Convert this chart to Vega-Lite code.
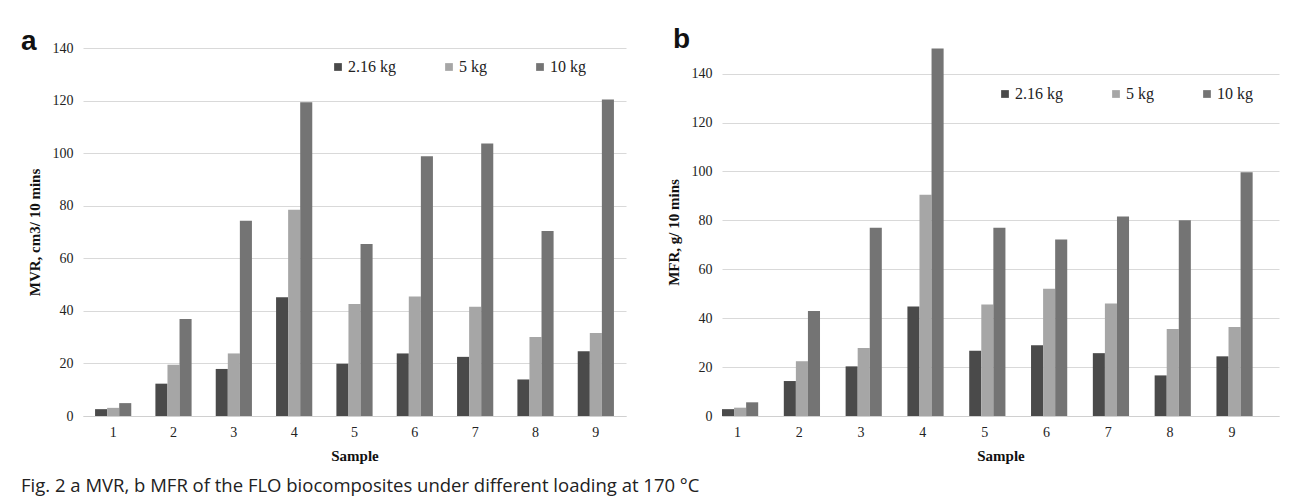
{
  "$schema": "https://vega.github.io/schema/vega-lite/v6.json",
  "background": "white",
  "padding": {"left": 21, "top": 26, "right": 5, "bottom": 5},
  "spacing": 40,
  "datasets": {
    "mvr": [
      {"sample": "1", "load": "2.16 kg", "value": 2.6},
      {"sample": "1", "load": "5 kg", "value": 3.1},
      {"sample": "1", "load": "10 kg", "value": 4.9},
      {"sample": "2", "load": "2.16 kg", "value": 12.3},
      {"sample": "2", "load": "5 kg", "value": 19.5},
      {"sample": "2", "load": "10 kg", "value": 36.9},
      {"sample": "3", "load": "2.16 kg", "value": 17.9},
      {"sample": "3", "load": "5 kg", "value": 23.8},
      {"sample": "3", "load": "10 kg", "value": 74.3},
      {"sample": "4", "load": "2.16 kg", "value": 45.2},
      {"sample": "4", "load": "5 kg", "value": 78.5},
      {"sample": "4", "load": "10 kg", "value": 119.4},
      {"sample": "5", "load": "2.16 kg", "value": 19.9},
      {"sample": "5", "load": "5 kg", "value": 42.6},
      {"sample": "5", "load": "10 kg", "value": 65.4},
      {"sample": "6", "load": "2.16 kg", "value": 23.8},
      {"sample": "6", "load": "5 kg", "value": 45.5},
      {"sample": "6", "load": "10 kg", "value": 98.8},
      {"sample": "7", "load": "2.16 kg", "value": 22.5},
      {"sample": "7", "load": "5 kg", "value": 41.6},
      {"sample": "7", "load": "10 kg", "value": 103.7},
      {"sample": "8", "load": "2.16 kg", "value": 13.9},
      {"sample": "8", "load": "5 kg", "value": 30.1},
      {"sample": "8", "load": "10 kg", "value": 70.4},
      {"sample": "9", "load": "2.16 kg", "value": 24.6},
      {"sample": "9", "load": "5 kg", "value": 31.6},
      {"sample": "9", "load": "10 kg", "value": 120.4}
    ],
    "mfr": [
      {"sample": "1", "load": "2.16 kg", "value": 2.8},
      {"sample": "1", "load": "5 kg", "value": 3.4},
      {"sample": "1", "load": "10 kg", "value": 5.6},
      {"sample": "2", "load": "2.16 kg", "value": 14.3},
      {"sample": "2", "load": "5 kg", "value": 22.4},
      {"sample": "2", "load": "10 kg", "value": 42.9},
      {"sample": "3", "load": "2.16 kg", "value": 20.3},
      {"sample": "3", "load": "5 kg", "value": 27.8},
      {"sample": "3", "load": "10 kg", "value": 77.0},
      {"sample": "4", "load": "2.16 kg", "value": 44.8},
      {"sample": "4", "load": "5 kg", "value": 90.5},
      {"sample": "4", "load": "10 kg", "value": 150.3},
      {"sample": "5", "load": "2.16 kg", "value": 26.7},
      {"sample": "5", "load": "5 kg", "value": 45.6},
      {"sample": "5", "load": "10 kg", "value": 77.0},
      {"sample": "6", "load": "2.16 kg", "value": 28.9},
      {"sample": "6", "load": "5 kg", "value": 52.0},
      {"sample": "6", "load": "10 kg", "value": 72.2},
      {"sample": "7", "load": "2.16 kg", "value": 25.7},
      {"sample": "7", "load": "5 kg", "value": 46.0},
      {"sample": "7", "load": "10 kg", "value": 81.6},
      {"sample": "8", "load": "2.16 kg", "value": 16.6},
      {"sample": "8", "load": "5 kg", "value": 35.6},
      {"sample": "8", "load": "10 kg", "value": 80.1},
      {"sample": "9", "load": "2.16 kg", "value": 24.4},
      {"sample": "9", "load": "5 kg", "value": 36.4},
      {"sample": "9", "load": "10 kg", "value": 99.7}
    ]
  },
  "title": {
    "text": "Fig. 2  a MVR, b MFR of the FLO biocomposites under different loading at 170 °C",
    "orient": "bottom",
    "anchor": "start",
    "frame": "bounds",
    "font": "Open Sans",
    "fontSize": 18.5,
    "fontWeight": "normal",
    "color": "#222",
    "offset": 14
  },
  "config": {
    "view": {"stroke": null},
    "axis": {
      "labelFont": "Liberation Serif",
      "labelFontSize": 14,
      "labelColor": "#222",
      "titleFont": "Liberation Serif",
      "titleFontSize": 15,
      "titleFontWeight": "bold",
      "titleColor": "#111",
      "ticks": false
    },
    "axisX": {"domainColor": "#d0d0d0", "labelAngle": 0, "labelPadding": 9, "grid": false, "titlePadding": 9},
    "axisY": {"domain": false, "gridColor": "#d9d9d9", "labelPadding": 10, "titlePadding": 10},
    "legend": {
      "orient": "none",
      "direction": "horizontal",
      "title": null,
      "symbolType": "square",
      "symbolSize": 60,
      "symbolStrokeWidth": 0,
      "labelFont": "Liberation Serif",
      "labelFontSize": 16,
      "labelColor": "#222",
      "labelOffset": 2,
      "columnPadding": 45
    },
    "title": {"font": "Liberation Sans", "fontSize": 28, "fontWeight": "bold", "anchor": "start", "frame": "bounds", "color": "#111"}
  },
  "hconcat": [
    {
      "data": {"name": "mvr"},
      "width": 543,
      "height": 368,
      "title": {"text": "a", "offset": -15, "dx": -6},
      "mark": {"type": "bar"},
      "encoding": {
        "x": {"field": "sample", "type": "nominal", "title": "Sample",
              "scale": {"paddingInner": 0.4, "paddingOuter": 0.2}},
        "xOffset": {"field": "load", "type": "nominal", "sort": ["2.16 kg", "5 kg", "10 kg"]},
        "y": {"field": "value", "type": "quantitative", "title": "MVR, cm3/ 10 mins",
              "scale": {"domain": [0, 140], "nice": false},
              "axis": {"values": [0, 20, 40, 60, 80, 100, 120, 140]}},
        "color": {"field": "load", "type": "nominal",
                  "scale": {"domain": ["2.16 kg", "5 kg", "10 kg"], "range": ["#4a4a4a", "#a6a6a6", "#747474"]},
                  "legend": {"legendX": 247, "legendY": 11}}
      }
    },
    {
      "data": {"name": "mfr"},
      "width": 557,
      "height": 368,
      "title": {"text": "b", "offset": -6, "dx": 7},
      "mark": {"type": "bar", "clip": false},
      "encoding": {
        "x": {"field": "sample", "type": "nominal", "title": "Sample",
              "scale": {"paddingInner": 0.5, "paddingOuter": 0.256, "align": 0}},
        "xOffset": {"field": "load", "type": "nominal", "sort": ["2.16 kg", "5 kg", "10 kg"]},
        "y": {"field": "value", "type": "quantitative", "title": "MFR, g/ 10 mins",
              "scale": {"domain": [0, 150.5], "nice": false},
              "axis": {"values": [0, 20, 40, 60, 80, 100, 120, 140]}},
        "color": {"field": "load", "type": "nominal",
                  "scale": {"domain": ["2.16 kg", "5 kg", "10 kg"], "range": ["#4a4a4a", "#a6a6a6", "#747474"]},
                  "legend": {"legendX": 275, "legendY": 38}}
      }
    }
  ],
  "resolve": {"scale": {"y": "independent", "x": "independent", "color": "independent"}, "legend": {"color": "independent"}}
}
